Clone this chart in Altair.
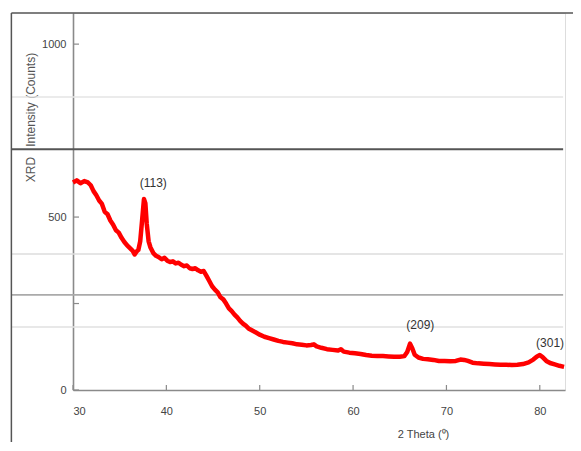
import altair as alt
import pandas as pd

# ---------------- data ----------------
two_theta = [30.0, 30.4, 30.8, 31.2, 31.6, 31.9, 32.2, 32.5, 32.8, 33.1, 33.4, 33.7,
             34.0, 34.3, 34.6, 34.9, 35.2, 35.5, 35.8, 36.1, 36.4, 36.6, 36.8, 37.0,
             37.2, 37.4, 37.6, 37.75, 37.9, 38.1, 38.3, 38.6, 38.9, 39.2, 39.5, 39.8,
             40.1, 40.4, 40.7, 41.0, 41.3, 41.6, 41.9, 42.2, 42.5, 42.8, 43.1, 43.4,
             43.7, 44.0, 44.3, 44.6, 44.9, 45.2, 45.5, 45.8, 46.1, 46.4, 46.7, 47.0,
             47.3, 47.6, 47.9, 48.2, 48.5, 48.8, 49.2, 49.6, 50.0, 50.5, 51.0, 51.5,
             52.0, 52.5, 53.0, 53.5, 54.0, 54.5, 55.0, 55.5, 55.8, 56.1, 56.6, 57.2,
             57.8, 58.4, 58.7, 59.0, 59.6, 60.2, 60.8, 61.4, 62.0, 62.6, 63.2, 63.8,
             64.4, 65.0, 65.5, 65.8, 66.1, 66.35, 66.6, 67.0, 67.5, 68.0, 68.6, 69.2,
             69.8, 70.4, 71.0, 71.5, 71.9, 72.3, 72.8, 73.4, 74.0, 74.6, 75.2, 75.8,
             76.4, 77.0, 77.6, 78.2, 78.8, 79.3, 79.7, 80.0, 80.3, 80.7, 81.1, 81.6,
             82.1, 82.6]
intensity = [600, 606, 598, 604, 600, 592, 575, 563, 548, 538, 515, 508,
             490, 478, 462, 455, 440, 428, 418, 410, 402, 392, 400, 405,
             430, 490, 552, 540, 480, 430, 412, 396, 388, 384, 378, 382,
             374, 370, 372, 366, 368, 362, 358, 360, 352, 350, 352, 346,
             342, 344, 330, 315, 300, 290, 282, 268, 262, 250, 236, 228,
             218, 210, 200, 192, 186, 178, 172, 166, 160, 154, 150, 146,
             142, 139, 137, 135, 132, 131, 129, 130, 132, 126, 122, 118,
             116, 114, 118, 111, 108, 106, 104, 101, 99, 98, 98, 97,
             96, 96, 98, 110, 134, 120, 102, 94, 90, 89, 87, 84,
             84, 83, 84, 88, 87, 84, 79, 77, 76, 75, 74, 73,
             73, 72, 73, 75, 80, 88, 97, 101, 95, 84, 78, 74,
             70, 67]

peak_labels = ["(113)", "(209)", "(301)"]
peak_label_x = [38.6, 67.2, 81.1]
peak_label_y = [598, 188, 136]

x_tick_values = [30, 40, 50, 60, 70, 80]
y_tick_values = [0, 250, 500, 1000]

# scan artefacts: horizontal page lines and frame
stray_y = [847, 696, 393, 275, 182]
stray_color = ["#e4e4e4", "#555555", "#dddddd", "#aaaaaa", "#e0e0e0"]
stray_width = [1.5, 1.8, 1.5, 1.8, 1.5]
stray_x_start = 23.4
stray_x_end = 82.5
frame_left_x = 23.4
frame_right_x = 84.5
frame_top_y = 1090
frame_bottom_y = -180

X_DOMAIN = [30, 82.7]
Y_DOMAIN = [0, 1090]
W, H = 492, 377

# ---------------- chart ----------------
curve = pd.DataFrame({"theta": two_theta, "counts": intensity})
peaks = pd.DataFrame({"label": peak_labels, "theta": peak_label_x, "counts": peak_label_y})
stray = pd.DataFrame({"y": stray_y, "c": stray_color, "w": stray_width,
                      "x1": [stray_x_start] * len(stray_y), "x2": [stray_x_end] * len(stray_y)})
frame_v = pd.DataFrame({"x": [frame_left_x], "y1": [frame_top_y], "y2": [frame_bottom_y]})
frame_h = pd.DataFrame({"x1": [frame_left_x], "x2": [frame_right_x], "y": [frame_top_y]})
xticks = pd.DataFrame({"v": x_tick_values})
yticks = pd.DataFrame({"v": y_tick_values})

xs = alt.Scale(domain=X_DOMAIN, nice=False, zero=False)
ys = alt.Scale(domain=Y_DOMAIN, nice=False, zero=False)

x_axis = alt.Axis(values=x_tick_values, ticks=False, grid=False, domainColor="#8a8a8a",
                  domainWidth=1.6, labelFont="Liberation Sans", labelFontSize=11,
                  labelColor="#444444", labelPadding=15, title="2 Theta (⁰)",
                  titleFont="Liberation Sans", titleFontSize=11, titleFontWeight="normal",
                  titleColor="#444444", titleX=350, titleY=44, titleAlign="center",
                  titleBaseline="middle")
y_axis = alt.Axis(values=y_tick_values, ticks=False, grid=False, domainColor="#8a8a8a",
                  domainWidth=1.6, labelFont="Liberation Sans", labelFontSize=11,
                  labelColor="#444444", labelPadding=7, format="d",
                  labelExpr="datum.value == 250 ? '' : datum.label",
                  title="XRD\u00a0\u00a0\u00a0Intensity (Counts)", titleFont="Liberation Sans",
                  titleFontSize=12, titleFontWeight="normal", titleColor="#555555",
                  titleX=-43, titleY=104, titleAngle=270, titleAlign="center",
                  titleBaseline="middle")

stray_layer = alt.Chart(stray).mark_rule().encode(
    x=alt.X("x1:Q", scale=xs, axis=x_axis),
    x2="x2:Q",
    y=alt.Y("y:Q", scale=ys, axis=y_axis),
    color=alt.Color("c:N", scale=None),
    strokeWidth=alt.StrokeWidth("w:Q", scale=None),
)

frame_v_layer = alt.Chart(frame_v).mark_rule(color="#555555", strokeWidth=1.5).encode(
    x=alt.X("x:Q", scale=xs), y=alt.Y("y1:Q", scale=ys), y2="y2:Q")
frame_h_layer = alt.Chart(frame_h).mark_rule(color="#555555", strokeWidth=1.5).encode(
    x=alt.X("x1:Q", scale=xs), x2="x2:Q", y=alt.Y("y:Q", scale=ys))

xtick_layer = alt.Chart(xticks).mark_rule(color="#8a8a8a", strokeWidth=1.2).encode(
    x=alt.X("v:Q", scale=xs), y=alt.value(H), y2=alt.value(H - 5))
ytick_layer = alt.Chart(yticks).mark_rule(color="#8a8a8a", strokeWidth=1.2).encode(
    y=alt.Y("v:Q", scale=ys), x=alt.value(0), x2=alt.value(6))

line_layer = alt.Chart(curve).mark_line(color="#ff0000", strokeWidth=4.5,
                                        strokeJoin="round").encode(
    x=alt.X("theta:Q", scale=xs), y=alt.Y("counts:Q", scale=ys))

label_layer = alt.Chart(peaks).mark_text(font="Liberation Sans", fontSize=12,
                                         color="#333333", baseline="middle",
                                         align="center").encode(
    x=alt.X("theta:Q", scale=xs), y=alt.Y("counts:Q", scale=ys), text="label:N")

chart = alt.layer(stray_layer, frame_v_layer, frame_h_layer, xtick_layer, ytick_layer,
                  line_layer, label_layer).properties(
    width=W, height=H,
    autosize=alt.AutoSizeParams(type="none"),
    padding={"left": 65, "top": 5, "right": 8, "bottom": 52},
).configure_view(stroke=None).configure(background="white")

chart.save("out.html", embed_options={"renderer": "svg", "actions": False})
